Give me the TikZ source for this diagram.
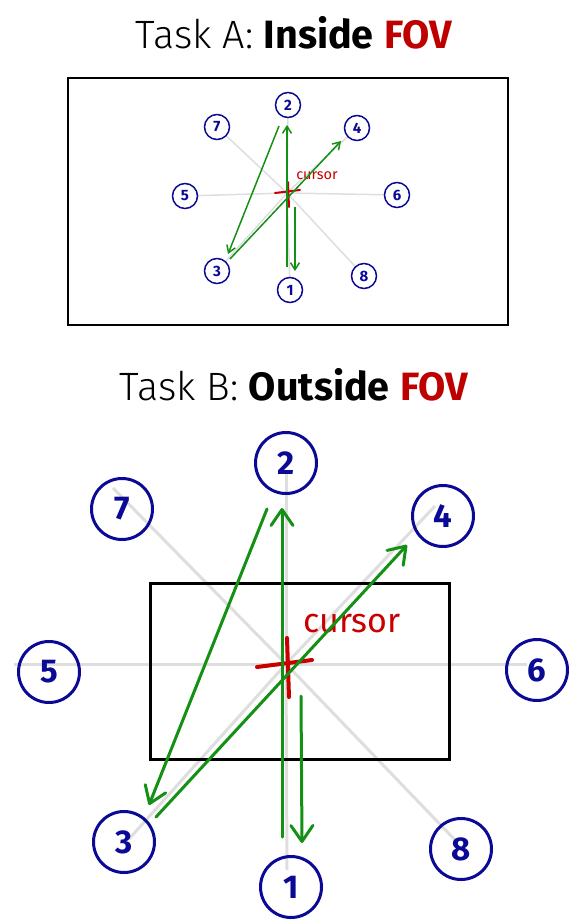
\documentclass[tikz,border=0pt]{standalone}
\usepackage{fontspec}
\setmainfont{Fira Sans}
\newfontfamily\lightfont{Fira Sans Light}
\usetikzlibrary{arrows.meta,backgrounds,calc}
\definecolor{navyc}{RGB}{10,10,150}
\definecolor{greenc}{RGB}{20,145,20}
\definecolor{redc}{RGB}{200,0,0}
\definecolor{titlered}{RGB}{190,0,0}
\definecolor{grayc}{RGB}{222,222,222}
\begin{document}
\begin{tikzpicture}[x=1pt,y=-1pt,
  title/.style={anchor=base,inner sep=0pt,font=\fontsize{39.5}{40}\selectfont},
  tcircA/.style={circle,draw=navyc,line width=1.5pt,minimum size=25pt,inner sep=0pt,text=navyc,font=\fontsize{15}{15}\selectfont\bfseries},
  tcircB/.style={circle,draw=navyc,line width=3pt,minimum size=61pt,inner sep=0pt,text=navyc,font=\fontsize{33}{33}\selectfont\bfseries},
  guideA/.style={draw=grayc,line width=1.5pt},
  guideB/.style={draw=grayc,line width=3pt},
  moveA/.style={draw=greenc,line width=1.5pt,-{Straight Barb[length=7pt,width=9pt]}},
  moveB/.style={draw=greenc,line width=3pt,line cap=round,-{Straight Barb[length=16pt,width=22pt,round]}},
  curA/.style={draw=redc,line width=2pt,line cap=round},
  curB/.style={draw=redc,line width=4pt,line cap=round},
  fovA/.style={draw=black,line width=2pt},
  fovB/.style={draw=black,line width=3pt},
]
\useasboundingbox (0,0) rectangle (579,924);

% Titles
\node[title] (titleA) at (294,48) {{\lightfont Task A:} \textbf{Inside} \textbf{\color{titlered}FOV}};
\node[title] (titleB) at (294,400) {{\lightfont Task B:} \textbf{Outside} \textbf{\color{titlered}FOV}};

% ---------------- Task A ----------------
\draw[fovA] (68,78) rectangle (508,325);
\coordinate (ac) at (287,193);
\node[tcircA] (a1) at (290,290) {1};
\node[tcircA] (a2) at (288,105) {2};
\node[tcircA] (a3) at (217,271) {3};
\node[tcircA] (a4) at (357,128) {4};
\node[tcircA] (a5) at (185,196) {5};
\node[tcircA] (a6) at (397,195) {6};
\node[tcircA] (a7) at (217,127) {7};
\node[tcircA] (a8) at (364,276) {8};
\begin{pgfonlayer}{background}
\foreach \n in {1,...,8} \draw[guideA] (ac) -- (a\n);
\end{pgfonlayer}
\draw[curA] (275,193) -- (300,190);
\draw[curA] (288,182) -- (289,207);
\node[text=redc,font=\fontsize{14.5}{14.5}\selectfont,inner sep=0pt] (curtextA) at (317,176) {cursor};
\coordinate (a1s) at (287,267); \coordinate (a2e) at (287,125);
\coordinate (a2s) at (279,126); \coordinate (a3e) at (228,254);
\coordinate (a3s) at (230,259); \coordinate (a4e) at (341,141);
\coordinate (acs) at (295,207); \coordinate (a1e) at (295,271);
\draw[moveA] (a1s) -- (a2e);
\draw[moveA] (a2s) -- (a3e);
\draw[moveA] (a3s) -- (a4e);
\draw[moveA] (acs) -- (a1e);

% ---------------- Task B ----------------
\draw[fovB] (150,583) rectangle (449,759);
\coordinate (bc) at (286,664);
\node[tcircB] (b1) at (291,887) {1};
\node[tcircB] (b2) at (286,463) {2};
\node[tcircB] (b3) at (124,842) {3};
\node[tcircB] (b4) at (443,516) {4};
\node[tcircB] (b5) at (49,672) {5};
\node[tcircB] (b6) at (537,670) {6};
\node[tcircB] (b7) at (122,509) {7};
\node[tcircB] (b8) at (461,849) {8};
\begin{pgfonlayer}{background}
\draw[guideB] (bc) -- (286,473);
\draw[guideB] (bc) -- (287,870);
\draw[guideB] (bc) -- (14,664);
\draw[guideB] (bc) -- (527,664);
\draw[guideB] (bc) -- (113,488);
\draw[guideB] (bc) -- (457,842);
\draw[guideB] (bc) -- (129,839);
\draw[guideB] (bc) -- (435,506);
\end{pgfonlayer}
\draw[curB] (257,667) -- (312,660);
\draw[curB] (287,638) -- (289,697);
\node[text=redc,font=\fontsize{34}{34}\selectfont,inner sep=0pt] (curtextB) at (352,624) {cursor};
\coordinate (b1s) at (282,837); \coordinate (b2e) at (282,508);
\coordinate (b2s) at (267,509); \coordinate (b3e) at (149,805);
\coordinate (b3s) at (156,817); \coordinate (b4e) at (407,545);
\coordinate (bcs) at (301,696); \coordinate (b1e) at (302,843);
\draw[moveB] (b1s) -- (b2e);
\draw[moveB] (b2s) -- (b3e);
\draw[moveB] (b3s) -- (b4e);
\draw[moveB] (bcs) -- (b1e);
\end{tikzpicture}
\end{document}
